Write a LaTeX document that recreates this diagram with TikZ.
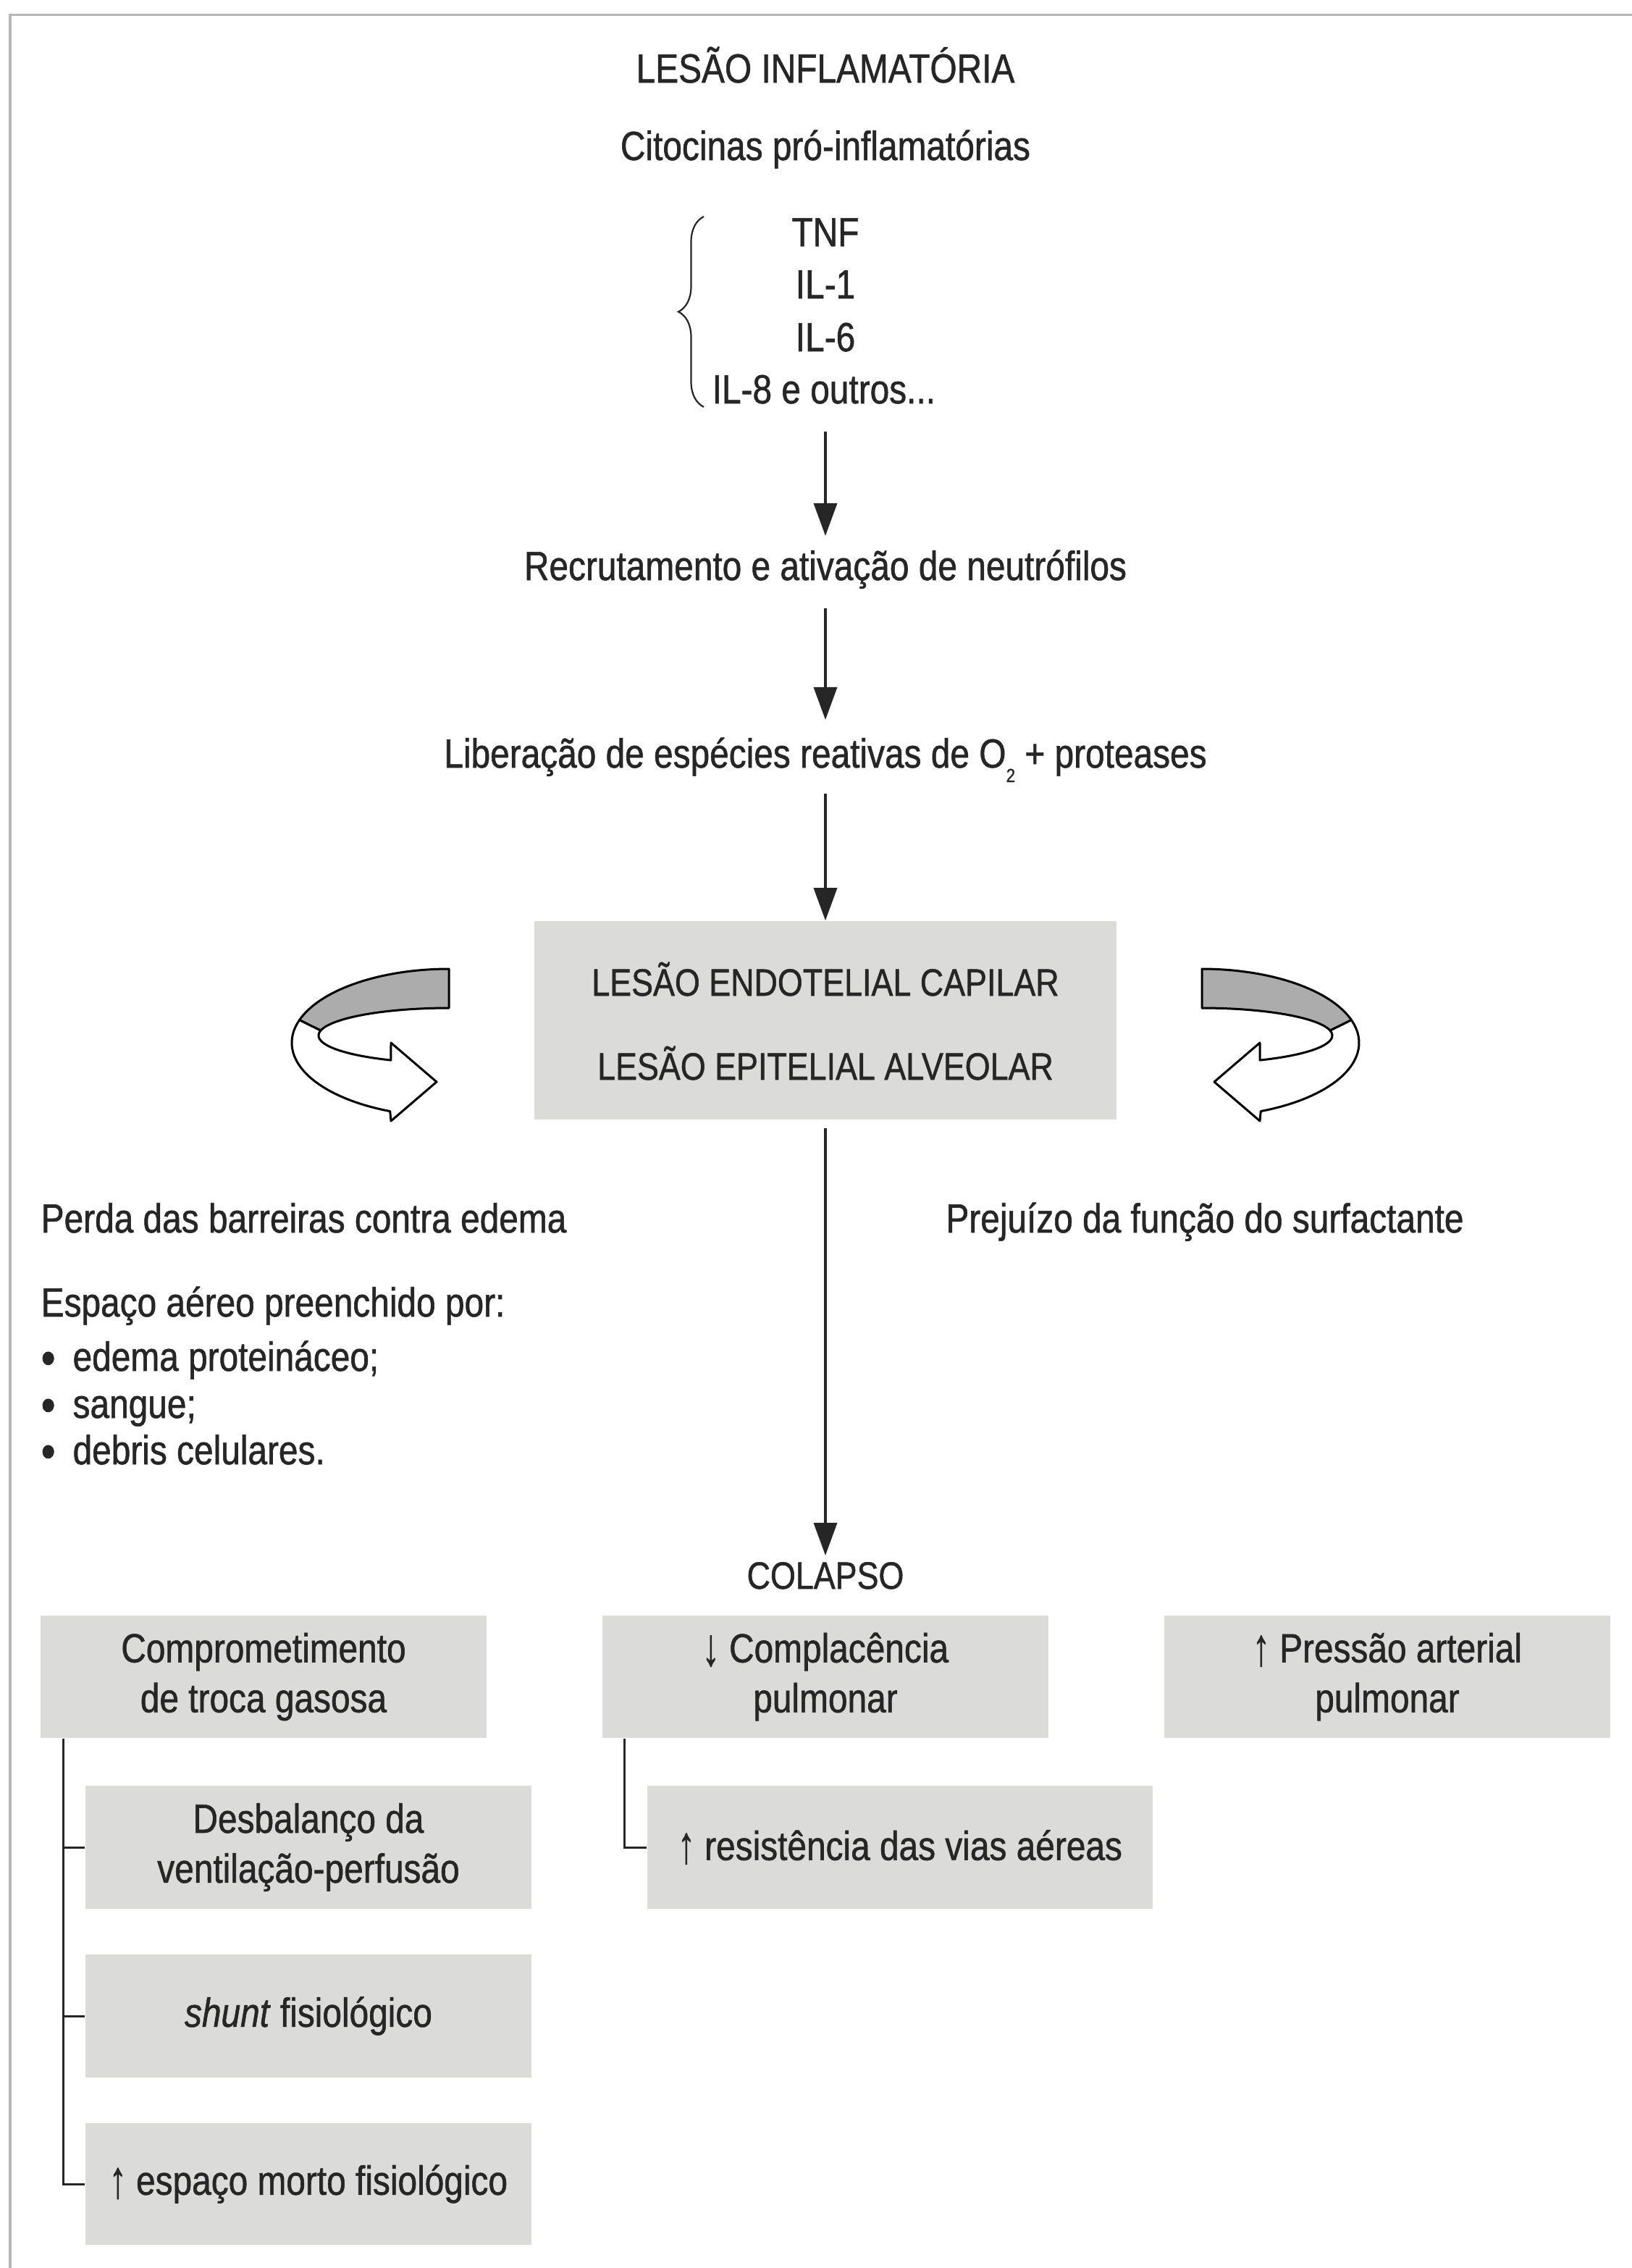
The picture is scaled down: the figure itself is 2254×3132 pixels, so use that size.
\documentclass[tikz,border=0pt]{standalone}
\usepackage{fontspec}
\setmainfont{Liberation Sans}[FakeStretch=0.85, FakeBold=1.0]
\usetikzlibrary{arrows.meta,decorations.pathreplacing}

\definecolor{ink}{RGB}{38,38,38}
\definecolor{boxfill}{RGB}{219,219,217}
\definecolor{bandgray}{RGB}{172,172,172}
\definecolor{framegray}{RGB}{183,183,183}

\newcommand\diagfont{\fontsize{16pt}{19.6pt}\selectfont}
\newcommand\capsfont{\fontsize{15pt}{18pt}\selectfont}
\newcommand\bulletmark{\raisebox{-0.05cm}{\fontsize{19pt}{19pt}\selectfont •}\hspace{0.24cm}}
\newcommand\tallarrow[1]{\raisebox{-0.04cm}{\scalebox{1}[1.3]{#1}}}

\begin{document}
\begin{tikzpicture}[x=0.01cm, y=-0.01cm,
  txt/.style={inner sep=0pt, text=ink, font=\diagfont},
  card/.style={fill=boxfill, draw=none, inner sep=0pt, align=center, text=ink, font=\diagfont},
  arr/.style={draw=ink, line width=0.035cm, -{Triangle[length=0.45cm,width=0.32cm]}},
  link/.style={draw=ink, line width=0.03cm},
  frameline/.style={draw=framegray, line width=0.03cm},
  outline/.style={draw=black, line width=0.03cm, line join=round},
  turnarrow/.pic={
    % white sweep with the arrow head
    \filldraw[outline, fill=white]
      plot[domain=198:112, samples=60] ({-520+217*cos(\x)},{1440+102*sin(\x)})
      -- (-600,1548) -- (-537,1494) -- (-600,1440)
      -- plot[domain=116.4:190.6, samples=60] ({-520+180*cos(\x)},{1430+38*sin(\x)})
      -- cycle;
    % grey band at the tail
    \filldraw[outline, fill=bandgray]
      plot[domain=270:198, samples=60] ({-520+217*cos(\x)},{1440+102*sin(\x)})
      -- plot[domain=190.6:270, samples=60] ({-520+180*cos(\x)},{1430+38*sin(\x)})
      -- cycle;
  }
]
\useasboundingbox (0,0) rectangle (2254,3132);
\fill[white] (0,0) rectangle (2254,3132);

% page frame (top and left edges)
\coordinate (frameBL) at (14,3132);
\coordinate (frameTL) at (14,20);
\coordinate (frameTR) at (2254,20);
\draw[frameline] (frameBL) -- (frameTL) -- (frameTR);

% top of the cascade
\node[txt, anchor=base] (inj) at (1140,114) {LESÃO INFLAMATÓRIA};
\node[txt, anchor=base] (cyto) at (1140,221) {Citocinas pró-inflamatórias};
\node[txt, anchor=base] (tnf) at (1140,340) {TNF};
\node[txt, anchor=base] (il1) at (1140,412) {IL-1};
\node[txt, anchor=base] (il6) at (1140,485) {IL-6};
\node[txt, anchor=base west] (il8) at (983,557) {IL-8 e outros...};

\coordinate (braceTop) at (972,299);
\coordinate (braceBot) at (972,562);
\draw[ink, line width=0.022cm, decorate, decoration={brace, amplitude=0.35cm, aspect=0.5}]
  (braceBot) -- (braceTop);

\node[txt, anchor=base] (recr) at (1140,801) {Recrutamento e ativação de neutrófilos};
\node[txt, anchor=base] (libr) at (1140,1060)
  {Liberação de espécies reativas de O\raisebox{-0.2cm}{\fontsize{7.5pt}{7.5pt}\selectfont 2} + proteases};

% central lesion box
\node[card, minimum width=8.04cm, minimum height=2.74cm] (lesion) at (1140,1409) {};
\node[txt, anchor=base, font=\capsfont] (endo) at (1140,1375) {LESÃO ENDOTELIAL CAPILAR};
\node[txt, anchor=base, font=\capsfont] (epi) at (1140,1491) {LESÃO EPITELIAL ALVEOLAR};

% turning arrows on both sides of the box
\pic at (1140,0) {turnarrow};
\pic[xscale=-1] at (1140,0) {turnarrow};

% consequences
\node[txt, anchor=base west] (loss) at (56,1702) {Perda das barreiras contra edema};
\node[txt, anchor=base] (surf) at (1664,1702) {Prejuízo da função do surfactante};
\node[txt, anchor=base west] (space) at (56,1818) {Espaço aéreo preenchido por:};
\node[txt, anchor=base west] (bulA) at (56,1893) {\bulletmark edema proteináceo;};
\node[txt, anchor=base west] (bulB) at (56,1958) {\bulletmark sangue;};
\node[txt, anchor=base west] (bulC) at (56,2022) {\bulletmark debris celulares.};

\node[txt, anchor=base, font=\capsfont] (colapso) at (1140,2194) {COLAPSO};

% result boxes
\node[card, minimum width=6.16cm, minimum height=1.69cm] (gas) at (364,2315.5) {Comprometimento\\de troca gasosa};
\node[card, minimum width=6.16cm, minimum height=1.69cm] (compl) at (1140,2315.5) {\tallarrow{↓} Complacência\\pulmonar};
\node[card, minimum width=6.16cm, minimum height=1.69cm] (press) at (1916,2315.5) {\tallarrow{↑} Pressão arterial\\pulmonar};

\node[card, minimum width=6.16cm, minimum height=1.70cm] (vq) at (426,2551) {Desbalanço da\\ventilação-perfusão};
\node[card, minimum width=6.16cm, minimum height=1.70cm] (shunt) at (426,2784) {\textit{shunt} fisiológico};
\node[card, minimum width=6.16cm, minimum height=1.68cm] (dead) at (426,3016) {\tallarrow{↑} espaço morto fisiológico};
\node[card, minimum width=6.98cm, minimum height=1.70cm] (resist) at (1243,2551) {\tallarrow{↑} resistência das vias aéreas};

% main flow arrows
\draw[arr, shorten <=0.39cm, shorten >=0.61cm] (il8.base -| recr.base) -- (recr.base);
\draw[arr, shorten <=0.39cm, shorten >=0.66cm] (recr.base) -- (libr.base);
\draw[arr, shorten <=0.36cm] (libr.base) -- (libr.base |- lesion.north);
\draw[arr, shorten <=0.11cm, shorten >=0.46cm] (lesion.south) -- (colapso.base);

% branch lines
\coordinate (trunkA) at ([xshift=0.32cm]gas.south west);
\draw[link] (trunkA) |- (dead.west);
\draw[link] (trunkA |- vq.west) -- (vq.west);
\draw[link] (trunkA |- shunt.west) -- (shunt.west);

\coordinate (trunkB) at ([xshift=0.31cm]compl.south west);
\draw[link] (trunkB) |- (resist.west);
\end{tikzpicture}
\end{document}
